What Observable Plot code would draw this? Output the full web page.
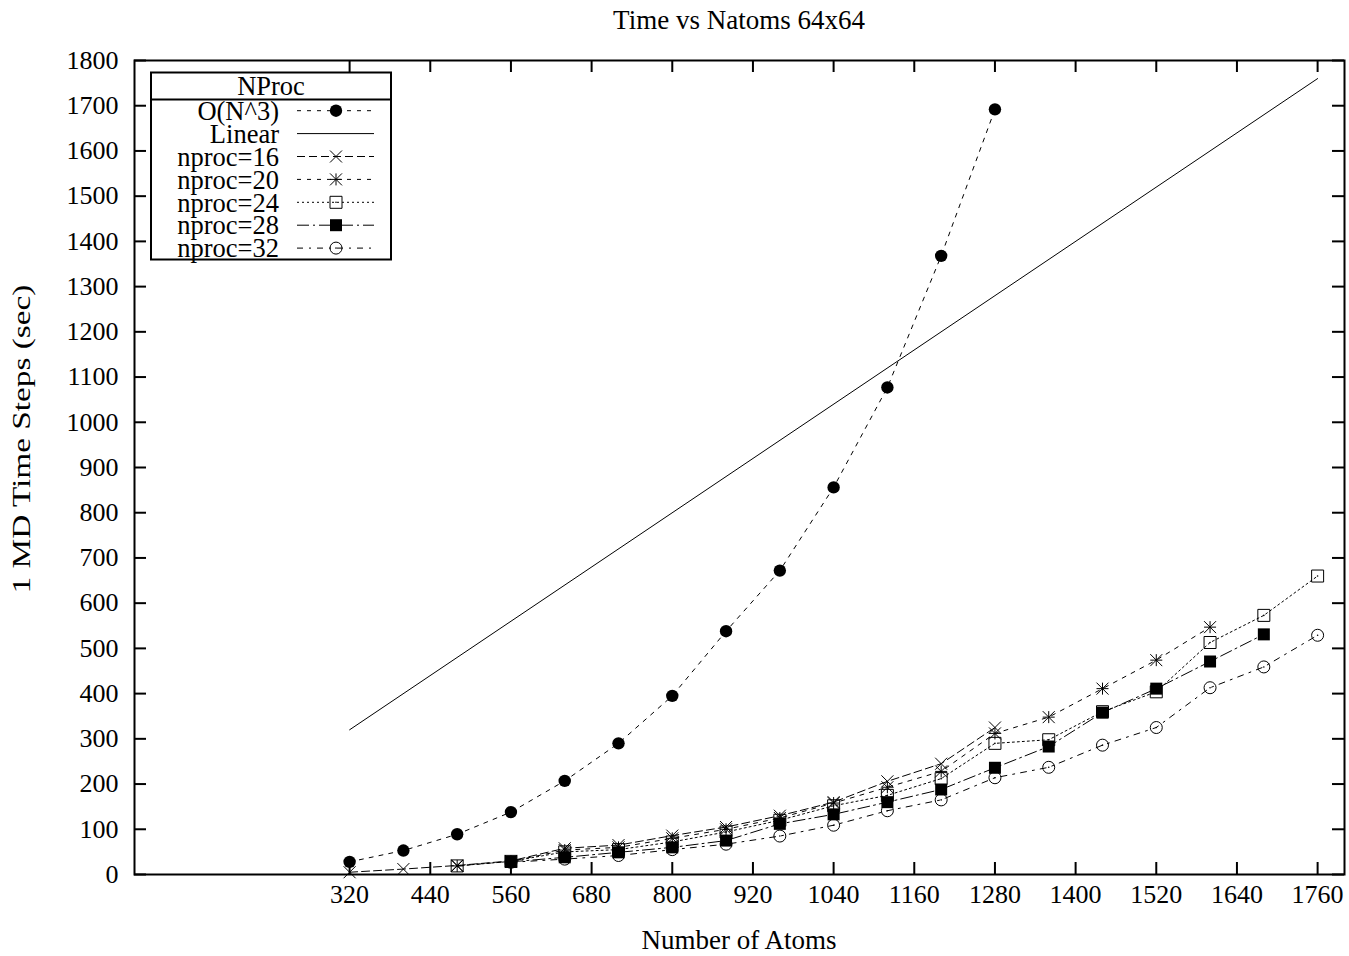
<!DOCTYPE html>
<html><head><meta charset="utf-8">
<script src="https://cdn.jsdelivr.net/npm/d3@7"></script>
<script src="https://cdn.jsdelivr.net/npm/@observablehq/plot@0.6"></script>
<style>
body{margin:0;background:#fff;}
#wrap{position:relative;width:1349px;height:956px;font-family:"Liberation Serif","Times New Roman",serif;color:#000;}
.lbl{position:absolute;transform:translate(-50%,-50%);white-space:nowrap;font-size:27px;line-height:1;}
#ylabel{font-size:26px;transform:translate(-50%,-50%) rotate(-90deg) scaleX(1.28);}
#legend{position:absolute;left:0;top:0;pointer-events:none;}
</style></head><body>
<div id="wrap">
  <div id="chart"></div>
  <div class="lbl" id="title" style="left:739px;top:20px">Time vs Natoms 64x64</div>
  <div class="lbl" id="xlabel" style="left:739px;top:940px">Number of Atoms</div>
  <div class="lbl" id="ylabel" style="left:22px;top:439px">1 MD Time Steps (sec)</div>
</div>
<script>
// ---- data ----
const atoms = [320,400,480,560,640,720,800,880,960,1040,1120,1200,1280,1360,1440,1520,1600,1680,1760];
const oN3    = [28,53,89,138,207,290,395,538,672,856,1077,1368,1692];
const linearAtoms = [320,1760];
const linearTime  = [320,1760];
const nproc16 = [5,12,20,30,58,65,86,105,130,160,206,245,325];
const nproc20 = [null,null,19,29,54,60,80,100,125,158,193,228,312,348,411,474,547];
const nproc24 = [null,null,19,29,50,55,72,94,120,152,175,212,290,298,360,404,513,573,660];
const nproc28 = [null,null,null,28,38,49,60,75,112,133,160,188,236,283,358,411,471,531];
const nproc32 = [null,null,null,27,34,42,55,67,85,109,141,165,214,237,286,325,413,459,529];
const xTicks = [320,440,560,680,800,920,1040,1160,1280,1400,1520,1640,1760];
const yTicks = [0,100,200,300,400,500,600,700,800,900,1000,1100,1200,1300,1400,1500,1600,1700,1800];
const seriesNames = ["O(N^3)","Linear","nproc=16","nproc=20","nproc=24","nproc=28","nproc=32"];

// ---- styling ----
const S = 6;
const symTimes = {draw(c){c.moveTo(-S,-S);c.lineTo(S,S);c.moveTo(-S,S);c.lineTo(S,-S);}};
const symStar = {draw(c){c.moveTo(-S,-S);c.lineTo(S,S);c.moveTo(-S,S);c.lineTo(S,-S);c.moveTo(-S,0);c.lineTo(S,0);c.moveTo(0,-S);c.lineTo(0,S);}};
const symSquare = {draw(c){c.rect(-S,-S,2*S,2*S);}};
const symCircle = {draw(c){c.moveTo(S,0);c.arc(0,0,S,0,2*Math.PI);}};
const symDot = {draw(c){c.moveTo(6.2,0);c.arc(0,0,6.2,0,2*Math.PI);}};

const series = [
  {name: seriesNames[0], x: atoms, y: oN3, dash: "4,6", sym: symDot, fill: "black", stroke: "none", center: false},
  {name: seriesNames[1], x: linearAtoms, y: linearTime, dash: null, sym: null},
  {name: seriesNames[2], x: atoms, y: nproc16, dash: "8,4", sym: symTimes, fill: "none", stroke: "black", center: false},
  {name: seriesNames[3], x: atoms, y: nproc20, dash: "4,6", sym: symStar, fill: "none", stroke: "black", center: false},
  {name: seriesNames[4], x: atoms, y: nproc24, dash: "2,3", sym: symSquare, fill: "none", stroke: "black", center: true},
  {name: seriesNames[5], x: atoms, y: nproc28, dash: "12,4,2,4", sym: symSquare, fill: "black", stroke: "none", center: false},
  {name: seriesNames[6], x: atoms, y: nproc32, dash: "6,6,2,6", sym: symCircle, fill: "none", stroke: "black", center: true}
];

const W = 1349, H = 956, mL = 134, mR = 5, mT = 60, mB = 82;
const fw = W - mL - mR, fh = H - mT - mB;
const TL = 12;

const marks = [];
for (const s of series) {
  const rows = s.y.map((v, i) => ({x: s.x[i], y: v})).filter(d => d.y != null);
  marks.push(Plot.line(rows, {x: "x", y: "y", stroke: "black", strokeWidth: 1, strokeDasharray: s.dash || undefined}));
  if (s.sym) {
    marks.push(Plot.dot(rows, {x: "x", y: "y", symbol: s.sym, r: 5, fill: s.fill, stroke: s.stroke, strokeWidth: 1}));
    if (s.center) marks.push(Plot.dot(rows, {x: "x", y: "y", r: 0.8, fill: "black", stroke: "none"}));
  }
}

const chart = Plot.plot({
  width: W, height: H,
  marginLeft: mL, marginRight: mR, marginTop: mT, marginBottom: mB,
  style: {fontFamily: "'Liberation Serif','Times New Roman',serif", fontSize: "26px", background: "white", color: "black"},
  x: {domain: [0, 1800]},
  y: {domain: [0, 1800]},
  marks: [
    Plot.tickX(xTicks, {x: d => d, insetTop: fh - TL, stroke: "black", strokeWidth: 2}),
    Plot.tickX(xTicks, {x: d => d, insetBottom: fh - TL, stroke: "black", strokeWidth: 2}),
    Plot.tickY(yTicks, {y: d => d, insetRight: fw - TL, stroke: "black", strokeWidth: 2}),
    Plot.tickY(yTicks, {y: d => d, insetLeft: fw - TL, stroke: "black", strokeWidth: 2}),
    Plot.axisX(xTicks, {tickSize: 0, tickPadding: 10, tickFormat: d => String(d), label: null, fontSize: 26}),
    Plot.axisY(yTicks, {tickSize: 0, tickPadding: 16, tickFormat: d => String(d), label: null, fontSize: 26}),
    ...marks,
    Plot.frame({stroke: "black", strokeWidth: 2})
  ]
});
document.getElementById("chart").appendChild(chart);

// ---- legend (key box) ----
const lg = d3.select("#wrap").append("svg").attr("id", "legend").attr("width", W).attr("height", H);
const bx = 151, by = 72.5, bw = 240, bh = 187, hdr = 27;
lg.append("rect").attr("x", bx).attr("y", by).attr("width", bw).attr("height", bh)
  .attr("fill", "white").attr("stroke", "black").attr("stroke-width", 2);
lg.append("line").attr("x1", bx).attr("x2", bx + bw).attr("y1", by + hdr).attr("y2", by + hdr)
  .attr("stroke", "black").attr("stroke-width", 2);
lg.append("text").attr("x", bx + bw / 2).attr("y", by + hdr / 2).attr("dy", "0.35em")
  .attr("text-anchor", "middle").attr("font-family", "'Liberation Serif',serif").attr("font-size", 26.5).text("NProc");
series.forEach((s, i) => {
  const y = 110.7 + i * 22.9;
  lg.append("text").attr("x", 279).attr("y", y).attr("dy", "0.35em").attr("text-anchor", "end")
    .attr("font-family", "'Liberation Serif',serif").attr("font-size", 26.5).text(s.name);
  const ln = lg.append("line").attr("x1", 297).attr("x2", 374).attr("y1", y).attr("y2", y)
    .attr("stroke", "black").attr("stroke-width", 1);
  if (s.dash) ln.attr("stroke-dasharray", s.dash);
  if (s.sym) {
    lg.append("path").attr("transform", `translate(336,${y})`).attr("d", d3.symbol().type(s.sym)())
      .attr("fill", s.fill).attr("stroke", s.stroke).attr("stroke-width", 1);
    if (s.center) lg.append("circle").attr("cx", 336).attr("cy", y).attr("r", 0.8).attr("fill", "black");
  }
});
</script>
</body></html>
